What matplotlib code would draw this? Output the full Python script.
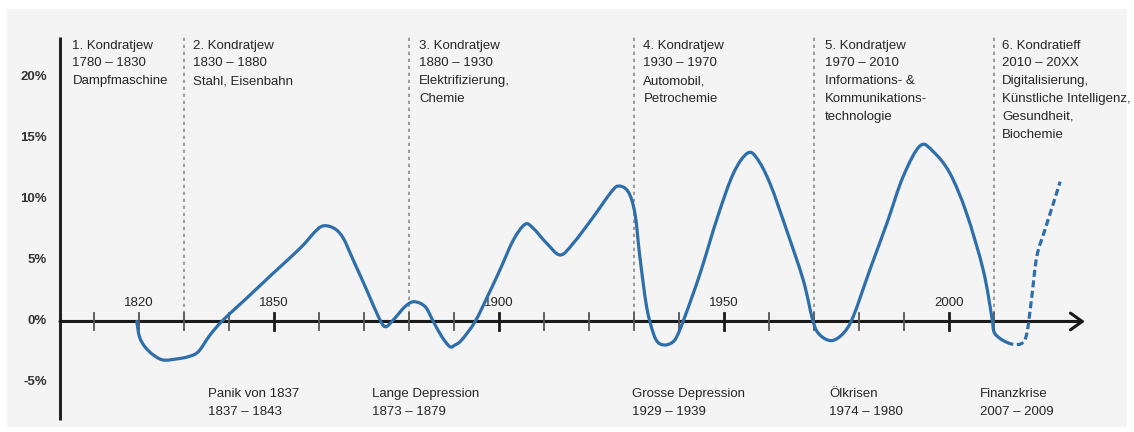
"""
Kondratjew-Zyklen: langfristige Wachstumswellen seit 1820
mit Basisinnovationen und Wirtschaftskrisen.
"""

import matplotlib
matplotlib.use("Agg")
import matplotlib.pyplot as plt
from matplotlib.patches import PathPatch, Rectangle
from matplotlib.path import Path

plt.rcParams["font.family"] = ["Liberation Sans", "DejaVu Sans"]

# Wachstumskurve (Jahr, Abweichung in %)
jahre = [1819.5, 1820.1, 1821.3, 1823.2, 1825.4, 1828.4, 1831.0, 1833.2, 1835.8,
         1838.7, 1843.9, 1849.8, 1855.8, 1859.5, 1861.3, 1863.6, 1865.4, 1867.6,
         1870.6, 1873.2, 1874.7, 1876.5, 1879.1, 1881.1, 1883.6, 1885.4, 1887.3,
         1889.1, 1890.2, 1891.7, 1894.7, 1897.6, 1900.2, 1903.2, 1905.8,
         1907.6, 1910.6, 1913.6, 1916.5, 1921.0, 1924.7, 1926.5, 1928.7, 1930.2,
         1931.3, 1932.8, 1934.3, 1935.4, 1936.9, 1938.4, 1939.5, 1941.3, 1944.7,
         1948.6, 1952.1, 1955.2, 1957.3, 1960.2, 1963.9, 1967.6,
         1969.8, 1971.3, 1973.9, 1976.5, 1978.7, 1982.4, 1986.2, 1989.8,
         1993.6, 1996.5, 2000.2, 2003.9, 2007.6, 2009.5, 2010.0, 2011.3,
         2012.8]
wachstum = [0.0, -1.25, -2.07, -2.75, -3.16, -3.07, -2.88, -2.47, -1.1,
            0.12, 1.9, 3.95, 6.0, 7.5, 7.85, 7.58, 6.82, 5.04,
            2.58, 0.39, -0.43, 0.12, 1.21, 1.62, 1.21, 0.0, -1.25,
            -2.07, -1.93, -1.52, 0.0, 2.17, 4.22, 6.68, 7.97,
            7.64, 6.41, 5.45, 6.41, 8.59, 10.5, 11.1, 10.64, 8.87,
            5.31, 1.21, -0.97, -1.74, -1.93, -1.74, -1.25, 0.39, 3.95,
            8.6, 12.15, 13.79, 13.38, 11.33, 7.5, 3.4,
            0.0, -1.1, -1.57, -0.97, 0.39, 4.22, 8.05, 11.87,
            14.41, 13.92, 12.15, 8.87, 4.22, 0.39, -0.85, -1.38,
            -1.7]

# Prognose ab 2013 (gestrichelt)
jahre_prognose = [2012.8, 2014.3, 2016.2, 2017.3, 2018.4, 2019.5, 2021.3, 2023.2, 2024.7]
wachstum_prognose = [-1.7, -1.87, -1.79, -0.97, 2.03, 5.31, 7.5, 9.69, 11.46]

# Achsenbeschriftung
y_ticks = [20, 15, 10, 5, 0, -5]
x_ticks = list(range(1810, 2011, 10))
x_labels = [1820, 1850, 1900, 1950, 2000]
x_major = [1850, 1900, 1950, 2000]

# Zyklusgrenzen und Beschreibungen
grenzen = [1830, 1880, 1930, 1970, 2010]
zyklen_x = [1805.2, 1832.1, 1882.3, 1932.1, 1972.4, 2011.8]
zyklen_text = [
    ["1. Kondratjew", "1780 – 1830", "Dampfmaschine"],
    ["2. Kondratjew", "1830 – 1880", "Stahl, Eisenbahn"],
    ["3. Kondratjew", "1880 – 1930", "Elektrifizierung,", "Chemie"],
    ["4. Kondratjew", "1930 – 1970", "Automobil,", "Petrochemie"],
    ["5. Kondratjew", "1970 – 2010", "Informations- &", "Kommunikations-",
     "technologie"],
    ["6. Kondratieff", "2010 – 20XX", "Digitalisierung,",
     "Künstliche Intelligenz,", "Gesundheit,", "Biochemie"],
]

# Krisen
krisen_x = [1835.4, 1871.7, 1929.5, 1973.4, 2006.9]
krisen_text = [
    ["Panik von 1837", "1837 – 1843"],
    ["Lange Depression", "1873 – 1879"],
    ["Grosse Depression", "1929 – 1939"],
    ["Ölkrisen", "1974 – 1980"],
    ["Finanzkrise", "2007 – 2009"],
]

KURVE = "#2e6ea9"
TEXT = "#262626"


def glatte_segmente(xs, ys):
    """Bezier-Segmente (Catmull-Rom) durch die Stützpunkte."""
    pts = list(zip(xs, ys))
    n = len(pts)
    segs = []
    for i in range(n - 1):
        p0 = pts[i - 1] if i > 0 else pts[i]
        p1, p2 = pts[i], pts[i + 1]
        p3 = pts[i + 2] if i + 2 < n else pts[i + 1]
        c1 = (p1[0] + (p2[0] - p0[0]) / 6, p1[1] + (p2[1] - p0[1]) / 6)
        c2 = (p2[0] - (p3[0] - p1[0]) / 6, p2[1] - (p3[1] - p1[1]) / 6)
        segs.append((p1, c1, c2, p2))
    return segs


def als_pfad(segs):
    verts = [segs[0][0]]
    codes = [Path.MOVETO]
    for _, c1, c2, p2 in segs:
        verts += [c1, c2, p2]
        codes += [Path.CURVE4] * 3
    return Path(verts, codes)


def plot_kondratjew_zyklen(filepath: str = "out.png") -> str:
    fig = plt.figure(figsize=(11.34, 4.32), dpi=100)
    fig.patch.set_facecolor("white")
    fig.add_artist(Rectangle((7 / 1134, 5 / 432), 1120 / 1134, 418 / 432,
                             transform=fig.transFigure, facecolor="#f4f4f4",
                             edgecolor="none", zorder=-1))

    ax = fig.add_axes([0, 0, 1, 1])
    ax.set_xlim(1789.11, 2041.11)
    ax.set_ylim(-9.06, 26.35)
    ax.axis("off")

    # y-Achse
    x0 = 1802.44
    ax.plot([x0, x0], [-8.07, 23.3], color="#222222", lw=2.2,
            solid_capstyle="butt", zorder=3)
    for v in y_ticks:
        ax.text(1799.6, v, f"{v}%", ha="right", va="center", fontsize=9.5,
                fontweight="bold", color="#333333")

    # Zyklusgrenzen
    for g in grenzen:
        ax.plot([g, g], [0, 23.3], color="#8c8c8c", lw=1.2,
                linestyle=(0, (2, 2.2)), zorder=1)

    # x-Achse mit Pfeil
    ax.annotate("", xy=(2030.2, 0), xytext=(x0, 0),
                arrowprops=dict(arrowstyle="->,head_length=0.85,head_width=0.6",
                                lw=2.2, color="#1a1a1a", shrinkA=0, shrinkB=0),
                zorder=3)
    for t in x_ticks:
        if t in x_major:
            ax.plot([t, t], [-0.7, 0.7], color="#1a1a1a", lw=2.0, zorder=3)
        else:
            ax.plot([t, t], [-0.68, 0.68], color="#555555", lw=1.3, zorder=3)
    for t in x_labels:
        ax.text(t, 1.3, str(t), ha="center", va="baseline", fontsize=9.5,
                color=TEXT)

    # Kurve: durchgezogen bis 2012, danach gestrichelte Prognose
    segs = glatte_segmente(jahre + jahre_prognose[1:],
                           wachstum + wachstum_prognose[1:])
    k = len(jahre) - 1
    ax.add_patch(PathPatch(als_pfad(segs[:k]), fill=False, edgecolor=KURVE,
                           lw=2.3, joinstyle="round", capstyle="round",
                           zorder=4))
    ax.add_patch(PathPatch(als_pfad(segs[k:]), fill=False, edgecolor=KURVE,
                           lw=2.3, linestyle=(0, (2.2, 1.1)), capstyle="butt",
                           zorder=4))

    # Zyklen-Beschreibungen oben
    for x, zeilen in zip(zyklen_x, zyklen_text):
        for i, s in enumerate(zeilen):
            ax.text(x, 22.36 - i * 1.46, s, ha="left", va="baseline",
                    fontsize=9.5, color=TEXT)

    # Krisen unten
    for x, zeilen in zip(krisen_x, krisen_text):
        for i, s in enumerate(zeilen):
            ax.text(x, -6.21 - i * 1.46, s, ha="left", va="baseline",
                    fontsize=9.5, color=TEXT)

    fig.savefig(filepath, dpi=100)
    plt.close(fig)
    return filepath


if __name__ == "__main__":
    plot_kondratjew_zyklen()
